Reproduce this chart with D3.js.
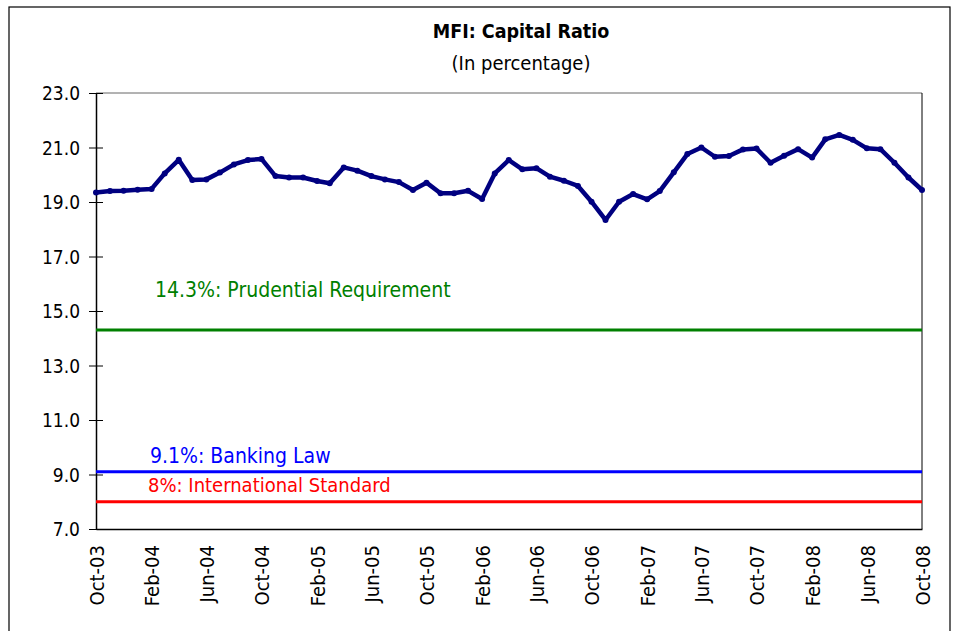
<!DOCTYPE html>
<html>
<head>
<meta charset="utf-8">
<script src="https://cdn.jsdelivr.net/npm/d3@7"></script>
<style>
  body { margin: 0; background: #fff; }
  svg text { font-family: "Liberation Sans Narrow", "Arial Narrow", "DejaVu Sans Condensed", sans-serif; }
</style>
</head>
<body>
<script>
// months Oct-03 .. Oct-08
var months = d3.timeMonths(new Date(2003, 9, 1), new Date(2008, 10, 1));

var capitalRatio = [
  19.35, 19.40, 19.41, 19.45, 19.48, 20.05, 20.55, 19.81, 19.83, 20.08,
  20.38, 20.54, 20.58, 19.95, 19.90, 19.90, 19.77, 19.69, 20.27, 20.15,
  19.95, 19.83, 19.73, 19.44, 19.71, 19.32, 19.32, 19.41, 19.11, 20.05,
  20.54, 20.20, 20.24, 19.93, 19.78, 19.59, 19.01, 18.34, 19.01, 19.29,
  19.10, 19.40, 20.09, 20.76, 21.00, 20.66, 20.69, 20.93, 20.96, 20.44,
  20.70, 20.94, 20.63, 21.30, 21.46, 21.28, 20.97, 20.94, 20.44, 19.90,
  19.44
];

var yTicks = [7, 9, 11, 13, 15, 17, 19, 21, 23];

var refValues = [14.3, 9.1, 8.0];
var refLabels = ["14.3%: Prudential Requirement", "9.1%: Banking Law", "8%: International Standard"];
var refColors = ["#008000", "#0000ff", "#ff0000"];

var W = 958, H = 631;
// plot box (don't name these top/left, window.top is read only)
var pLeft = 96, pRight = 922, pTop = 93, pBottom = 529;

var svg = d3.select("body").append("svg")
  .attr("width", W)
  .attr("height", H);

// outer frame
svg.append("rect")
  .attr("x", 9).attr("y", 7)
  .attr("width", 941).attr("height", 640)
  .attr("fill", "none")
  .attr("stroke", "#000")
  .attr("stroke-width", 1.2);

var x = d3.scaleTime()
  .domain([months[0], months[months.length - 1]])
  .range([pLeft, pRight]);

var y = d3.scaleLinear()
  .domain([7, 23])
  .range([pBottom, pTop]);

// plot frame top/right
svg.append("line")
  .attr("x1", pLeft).attr("x2", pRight)
  .attr("y1", pTop).attr("y2", pTop)
  .attr("stroke", "#666").attr("stroke-width", 1);
svg.append("line")
  .attr("x1", pRight).attr("x2", pRight)
  .attr("y1", pTop).attr("y2", pBottom)
  .attr("stroke", "#000").attr("stroke-width", 1);

// y axis
var yAxis = svg.append("g")
  .attr("transform", "translate(" + pLeft + ",0)")
  .call(d3.axisLeft(y).tickValues(yTicks).tickFormat(d3.format(".1f")).tickSize(6).tickSizeOuter(0));
yAxis.select(".domain").attr("stroke-width", 1.5);
yAxis.selectAll(".tick line").attr("x2", 7).attr("x1", -7);
yAxis.selectAll("text")
  .attr("x", -16)
  .attr("dy", "0.35em")
  .style("font-size", "19px")
  .attr("fill", "#000");

// x axis
var labelMonths = months.filter(function(d, i) { return i % 4 == 0; });
var xAxis = svg.append("g")
  .attr("transform", "translate(0," + pBottom + ")")
  .call(d3.axisBottom(x).tickValues(labelMonths).tickFormat(d3.timeFormat("%b-%y")).tickSize(0));
xAxis.select(".domain").attr("stroke-width", 1.5);
xAxis.selectAll("text")
  .attr("transform", "rotate(-90)")
  .attr("text-anchor", "end")
  .attr("x", -16)
  .attr("y", 0)
  .attr("dy", "0.36em")
  .style("font-size", "20px")
  .attr("fill", "#000");

// reference lines
svg.selectAll(".ref")
  .data(refValues)
  .enter()
  .append("line")
  .attr("class", "ref")
  .attr("x1", pLeft)
  .attr("x2", pRight)
  .attr("y1", function(d) { return y(d); })
  .attr("y2", function(d) { return y(d); })
  .attr("stroke", function(d, i) { return refColors[i]; })
  .attr("stroke-width", 3);

var labelOffsets = [33, 9, 10];
var labelX = [155, 150, 148];
var labelSize = [21, 21, 20];
svg.selectAll(".refLabel")
  .data(refValues)
  .enter()
  .append("text")
  .attr("class", "refLabel")
  .attr("x", function(d, i) { return labelX[i]; })
  .attr("y", function(d, i) { return y(d) - labelOffsets[i]; })
  .attr("fill", function(d, i) { return refColors[i]; })
  .style("font-size", function(d, i) { return labelSize[i] + "px"; })
  .text(function(d, i) { return refLabels[i]; });

// main series
var line = d3.line()
  .x(function(d, i) { return x(months[i]); })
  .y(function(d) { return y(d); });

svg.append("path")
  .datum(capitalRatio)
  .attr("d", line)
  .attr("fill", "none")
  .attr("stroke", "#000080")
  .attr("stroke-width", 4.5)
  .attr("stroke-linejoin", "round");

svg.selectAll(".dot")
  .data(capitalRatio)
  .enter()
  .append("circle")
  .attr("class", "dot")
  .attr("cx", function(d, i) { return x(months[i]); })
  .attr("cy", function(d) { return y(d); })
  .attr("r", 3)
  .attr("fill", "#000080");

// titles
svg.append("text")
  .attr("x", 521).attr("y", 38)
  .attr("text-anchor", "middle")
  .style("font-size", "19.5px")
  .style("font-weight", "bold")
  .text("MFI: Capital Ratio");

svg.append("text")
  .attr("x", 521).attr("y", 70)
  .attr("text-anchor", "middle")
  .style("font-size", "20px")
  .text("(In percentage)");
</script>
</body>
</html>
